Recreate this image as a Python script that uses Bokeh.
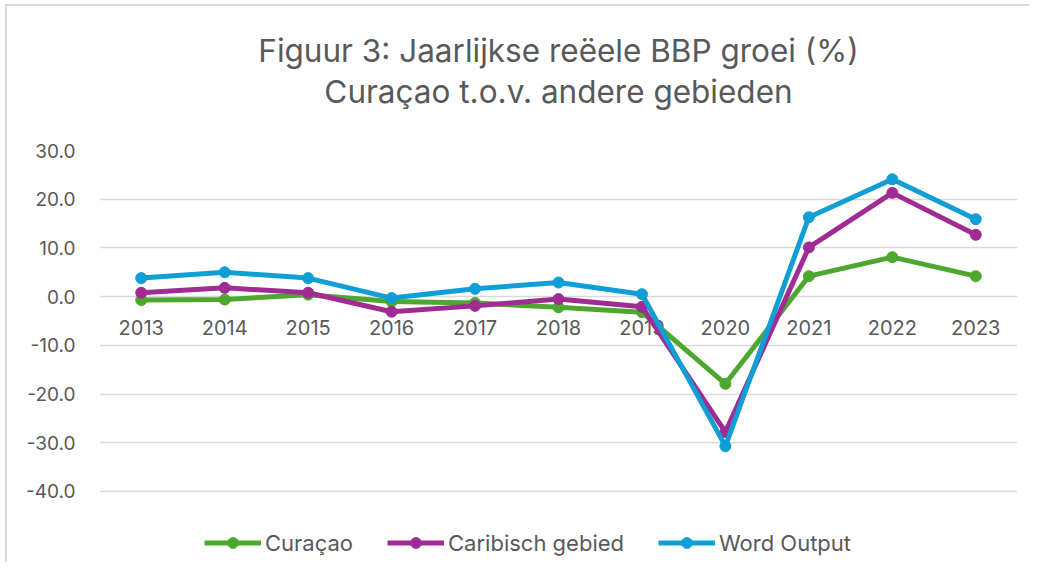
from bokeh.plotting import figure
from bokeh.models import (Range1d, FixedTicker, NumeralTickFormatter, Legend, LegendItem,
                          Title, ColumnDataSource)
from bokeh.core.properties import value
from bokeh.embed import file_html
from bokeh.resources import INLINE

years = ["2013", "2014", "2015", "2016", "2017", "2018", "2019", "2020", "2021", "2022", "2023"]
curacao = [-0.7, -0.6, 0.4, -1.0, -1.3, -2.2, -3.2, -17.9, 4.2, 8.1, 4.2]
caribisch = [0.8, 1.8, 0.8, -3.1, -1.9, -0.5, -2.1, -27.8, 10.1, 21.3, 12.7]
world = [3.8, 5.0, 3.8, -0.3, 1.6, 2.9, 0.5, -30.7, 16.3, 24.1, 15.9]
y_ticks = [-40, -30, -20, -10, 0, 10, 20, 30]
series_names = ["Curaçao", "Caribisch gebied", "Word Output"]
colors = ["#4EA72E", "#A02B93", "#0F9ED5"]
title_lines = ["Figuur 3: Jaarlijkse reëele BBP groei (%)", "Curaçao t.o.v. andere gebieden"]

FONT = "Inter"
TXT = "#595959"

# frame runs below -40 to hold the legend inside the plot area
p = figure(width=1024, height=558, x_range=years, y_range=Range1d(-55, 30),
           output_backend="svg", toolbar_location=None,
           min_border_left=92, min_border_right=14, min_border_top=144, min_border_bottom=0)
p.title.visible = False
p.outline_line_color = None
p.background_fill_color = "white"
p.border_fill_color = "white"
p.styles = {"border-top": "2px solid #d9d9d9", "border-left": "2px solid #d9d9d9",
            "margin-left": "5px", "margin-top": "4px"}

# spacer between the frame and the two title lines, then line 2, then line 1
spacer = Title(text=" ", text_font=FONT, text_font_size="2px", standoff=36)
t2 = Title(text=title_lines[1], align="center", text_font=FONT, text_font_size="31.5px",
           text_font_style="normal", text_color=TXT, standoff=0)
t1 = Title(text=title_lines[0], align="center", text_font=FONT, text_font_size="31.5px",
           text_font_style="normal", text_color=TXT, standoff=0)
p.add_layout(spacer, "above")
p.add_layout(t2, "above")
p.add_layout(t1, "above")

# y axis
p.yaxis.ticker = FixedTicker(ticks=y_ticks)
p.yaxis.formatter = NumeralTickFormatter(format="0.0")
p.yaxis.axis_line_color = None
p.yaxis.major_tick_line_color = None
p.yaxis.minor_tick_line_color = None
p.yaxis.major_label_standoff = 18
p.yaxis.major_label_text_font = FONT
p.yaxis.major_label_text_font_size = "19px"
p.yaxis.major_label_text_color = TXT

# x axis: category labels drawn next to the zero line
p.xaxis.visible = False
p.text(x=years, y=[0] * len(years), text=years, y_offset=31,
       text_align="center", text_baseline="middle",
       text_font=value(FONT), text_font_size="20px", text_color=TXT)

p.xgrid.grid_line_color = None
p.ygrid.ticker = FixedTicker(ticks=y_ticks)
p.ygrid.grid_line_color = "#D9D9D9"
p.ygrid.grid_line_width = 1.5

items = []
for name, vals, c in zip(series_names, [curacao, caribisch, world], colors):
    src = ColumnDataSource(dict(x=years, y=vals))
    l = p.line("x", "y", source=src, line_color=c, line_width=5, line_join="round")
    s = p.scatter("x", "y", source=src, size=11, fill_color=c, line_color=c)
    items.append(LegendItem(label=name, renderers=[l, s]))

legend = Legend(items=items, orientation="horizontal", location=(105, 8),
                glyph_width=57, glyph_height=27, label_standoff=4, spacing=34,
                padding=0, margin=0, border_line_color=None, background_fill_alpha=0,
                label_text_font=FONT, label_text_font_size="22px", label_text_color=TXT)
p.add_layout(legend, "center")

open("out.html", "w").write(file_html(p, INLINE))
